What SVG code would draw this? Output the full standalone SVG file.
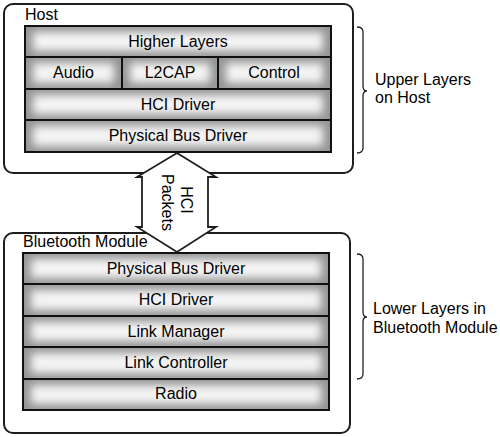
<svg xmlns="http://www.w3.org/2000/svg" width="500" height="437" viewBox="0 0 500 437">
  <defs>
    <filter id="soft" x="-20%" y="-60%" width="140%" height="220%">
      <feGaussianBlur stdDeviation="4.5"/>
    </filter>
    <style>
      text { font-family: "Liberation Sans", Arial, sans-serif; font-size: 16px; fill: #000000; }
      .mid { text-anchor: middle; }
      .box { fill: #ffffff; stroke: #1e1e1e; stroke-width: 2; }
      .base { fill: #949494; }
      .glow { fill: #f4f4f4; filter: url(#soft); }
      .edge { fill: none; stroke: #111111; stroke-width: 2; }
      .brace { fill: none; stroke: #222; stroke-width: 1.3; }
      .arrow { fill: #ffffff; stroke: #1e1e1e; stroke-width: 1.8; stroke-linejoin: miter; }
    </style>
  </defs>
  <rect width="500" height="437" fill="#ffffff"/>

  <g id="host">
    <rect class="box" x="4" y="4" width="349" height="169" rx="9"/>
    <text x="25" y="20">Host</text>
  </g>

  <g id="bluetooth-module">
    <rect class="box" x="4" y="233" width="346" height="200" rx="9"/>
    <text x="23" y="247">Bluetooth Module</text>
  </g>

  <g id="higher-layers">
    <rect class="base" x="25" y="26" width="306" height="31"/>
    <rect class="glow" x="33" y="32" width="290" height="19"/>
    <rect class="edge" x="25" y="26" width="306" height="31"/>
    <text class="mid" x="178" y="47">Higher Layers</text>
  </g>
  <g id="audio">
    <rect class="base" x="25" y="57" width="97" height="32"/>
    <rect class="glow" x="33" y="63" width="81" height="20"/>
    <rect class="edge" x="25" y="57" width="97" height="32"/>
    <text class="mid" x="73.5" y="78">Audio</text>
  </g>
  <g id="l2cap">
    <rect class="base" x="122" y="57" width="96" height="32"/>
    <rect class="glow" x="130" y="63" width="80" height="20"/>
    <rect class="edge" x="122" y="57" width="96" height="32"/>
    <text class="mid" x="170" y="78">L2CAP</text>
  </g>
  <g id="control">
    <rect class="base" x="218" y="57" width="113" height="32"/>
    <rect class="glow" x="226" y="63" width="97" height="20"/>
    <rect class="edge" x="218" y="57" width="113" height="32"/>
    <text class="mid" x="274" y="78">Control</text>
  </g>
  <g id="host-hci-driver">
    <rect class="base" x="25" y="89" width="306" height="31"/>
    <rect class="glow" x="33" y="95" width="290" height="19"/>
    <rect class="edge" x="25" y="89" width="306" height="31"/>
    <text class="mid" x="178" y="110">HCI Driver</text>
  </g>
  <g id="host-physical-bus-driver">
    <rect class="base" x="25" y="120" width="306" height="32"/>
    <rect class="glow" x="33" y="126" width="290" height="20"/>
    <rect class="edge" x="25" y="120" width="306" height="32"/>
    <text class="mid" x="178" y="141">Physical Bus Driver</text>
  </g>

  <g id="bt-physical-bus-driver">
    <rect class="base" x="23" y="253" width="306" height="31"/>
    <rect class="glow" x="31" y="259" width="290" height="19"/>
    <rect class="edge" x="23" y="253" width="306" height="31"/>
    <text class="mid" x="176" y="274">Physical Bus Driver</text>
  </g>
  <g id="bt-hci-driver">
    <rect class="base" x="23" y="284" width="306" height="32"/>
    <rect class="glow" x="31" y="290" width="290" height="20"/>
    <rect class="edge" x="23" y="284" width="306" height="32"/>
    <text class="mid" x="176" y="305">HCI Driver</text>
  </g>
  <g id="link-manager">
    <rect class="base" x="23" y="316" width="306" height="31"/>
    <rect class="glow" x="31" y="322" width="290" height="19"/>
    <rect class="edge" x="23" y="316" width="306" height="31"/>
    <text class="mid" x="176" y="337">Link Manager</text>
  </g>
  <g id="link-controller">
    <rect class="base" x="23" y="347" width="306" height="32"/>
    <rect class="glow" x="31" y="353" width="290" height="20"/>
    <rect class="edge" x="23" y="347" width="306" height="32"/>
    <text class="mid" x="176" y="368">Link Controller</text>
  </g>
  <g id="radio">
    <rect class="base" x="23" y="379" width="306" height="31"/>
    <rect class="glow" x="31" y="385" width="290" height="19"/>
    <rect class="edge" x="23" y="379" width="306" height="31"/>
    <text class="mid" x="176" y="399">Radio</text>
  </g>

  <g id="connectors">
    <path class="arrow" d="M177,153 L216,177 L208,177 L208,227 L216,227 L177,252 L137,227 L142,227 L142,177 L137,177 Z"/>
    <text class="mid" transform="translate(180.5,200) rotate(90)">HCI</text>
    <text class="mid" transform="translate(161.5,202.5) rotate(90)">Packets</text>
  </g>

  <g id="upper-layers-note">
    <path class="brace" d="M357,27 Q363,27 363,32 L363,86 Q363,91 367,91 Q363,91 363,96 L363,148 Q363,153 357,153"/>
    <text x="375" y="85">Upper Layers</text>
    <text x="375" y="103">on Host</text>
  </g>
  <g id="lower-layers-note">
    <path class="brace" d="M357,254 Q363,254 363,259 L363,312 Q363,317 367,317 Q363,317 363,322 L363,374 Q363,379 357,379"/>
    <text x="373" y="314">Lower Layers in</text>
    <text x="373" y="333">Bluetooth Module</text>
  </g>
</svg>
